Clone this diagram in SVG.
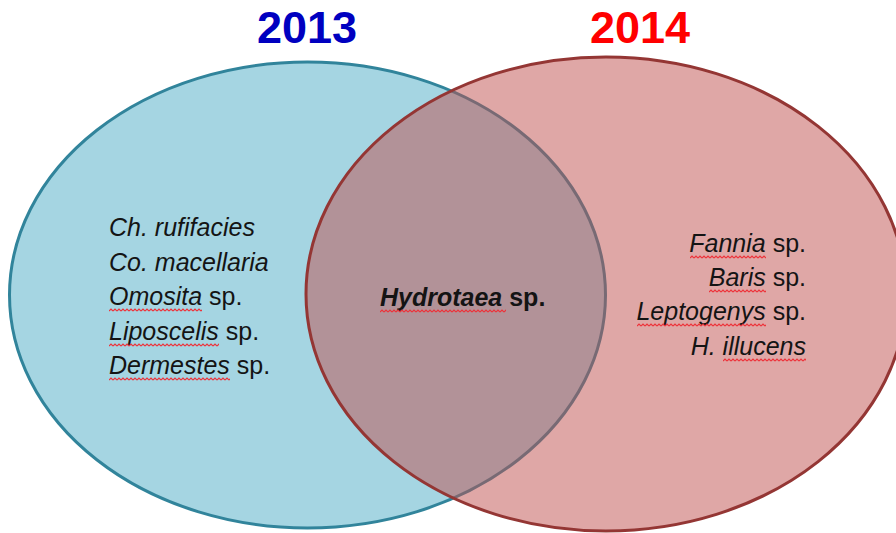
<svg xmlns="http://www.w3.org/2000/svg" width="896" height="533" viewBox="0 0 896 533">
  <defs>
    <!-- red zigzag used as a spell-check style underline -->
    <pattern id="wavy" patternUnits="userSpaceOnUse" width="4" height="4">
      <path d="M0 3 L2 1 L4 3" fill="none" stroke="#ee3038" stroke-width="1.2"/>
    </pattern>
    <style>
      .title { font-family: "Liberation Sans", Arial, sans-serif; font-weight: bold; font-size: 45px; text-anchor: middle; }
      .sp { font-family: "Liberation Sans", Arial, sans-serif; font-size: 25px; fill: #141414; }
      .it { font-style: italic; }
      .bold { font-weight: bold; }
      .wave { fill: url(#wavy); }
    </style>
  </defs>

  <rect width="896" height="533" fill="#ffffff"/>

  <!-- year headings -->
  <text class="title" x="307" y="43" fill="#0000c0">2013</text>
  <text class="title" x="640" y="43" fill="#ff0000">2014</text>

  <!-- set 2013 -->
  <g id="set-2013">
    <ellipse cx="307.5" cy="295" rx="298" ry="233" fill="#4bacc6" fill-opacity="0.5" stroke="#31849b" stroke-width="3"/>
  </g>

  <!-- set 2014, translucent so the overlap mixes -->
  <g id="set-2014">
    <ellipse cx="606" cy="294" rx="300" ry="237" fill="#c0504d" fill-opacity="0.5" stroke="#943634" stroke-width="3"/>
  </g>

  <!-- species found only in 2013 -->
  <g id="list-2013" class="sp">
    <text class="it" x="109" y="236">Ch. rufifacies</text>
    <text class="it" x="109" y="271">Co. macellaria</text>
    <text x="109" y="305"><tspan class="it">Omosita</tspan> sp.</text>
    <text x="109" y="340"><tspan class="it">Liposcelis</tspan> sp.</text>
    <text x="109" y="374"><tspan class="it">Dermestes</tspan> sp.</text>
    <rect class="wave" transform="translate(109,308)" width="93" height="4"/>
    <rect class="wave" transform="translate(109,343)" width="110" height="4"/>
    <rect class="wave" transform="translate(109,377)" width="121" height="4"/>
  </g>

  <!-- shared species -->
  <g id="list-both" class="sp bold">
    <text x="380" y="306"><tspan class="it">Hydrotaea</tspan> sp.</text>
    <rect class="wave" transform="translate(380,309)" width="126" height="4"/>
  </g>

  <!-- species found only in 2014 -->
  <g id="list-2014" class="sp">
    <text x="806" y="252" text-anchor="end"><tspan class="it">Fannia</tspan> sp.</text>
    <text x="806" y="286" text-anchor="end"><tspan class="it">Baris</tspan> sp.</text>
    <text x="806" y="320" text-anchor="end"><tspan class="it">Leptogenys</tspan> sp.</text>
    <text class="it" x="806" y="355" text-anchor="end">H. illucens</text>
    <rect class="wave" transform="translate(690,255)" width="76" height="4"/>
    <rect class="wave" transform="translate(709,289)" width="57" height="4"/>
    <rect class="wave" transform="translate(637,323)" width="129" height="4"/>
    <rect class="wave" transform="translate(723,358)" width="83" height="4"/>
  </g>
</svg>
